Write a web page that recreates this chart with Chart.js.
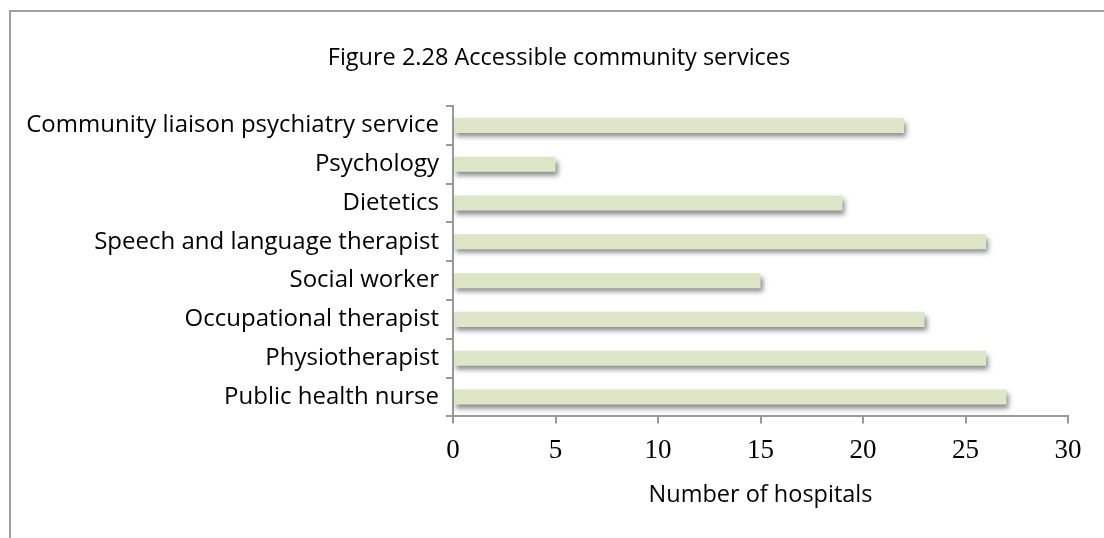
<!DOCTYPE html>
<html>
<head>
<meta charset="utf-8">
<script src="https://cdn.jsdelivr.net/npm/chart.js@4"></script>
<style>
  html, body { margin: 0; padding: 0; background: #fff; }
  #wrap { width: 1104px; height: 538px; position: relative; }
</style>
</head>
<body>
<div id="wrap"><canvas id="my-chart"></canvas></div>
<script>
const services = [
  'Community liaison psychiatry service',
  'Psychology',
  'Dietetics',
  'Speech and language therapist',
  'Social worker',
  'Occupational therapist',
  'Physiotherapist',
  'Public health nurse'
];
const hospitals = [22, 5, 19, 26, 15, 23, 26, 27];
const xTicks = [0, 5, 10, 15, 20, 25, 30];
const chartTitle = 'Figure 2.28 Accessible community services';

// outer frame like the original figure box, plus the figure title
// (title sits off-centre in the original, so it is drawn here)
const framePlugin = {
  id: 'frame',
  beforeDraw(chart) {
    const ctx = chart.ctx;
    ctx.save();
    ctx.strokeStyle = '#a0a0a0';
    ctx.lineWidth = 2;
    ctx.beginPath();
    ctx.moveTo(10, 538);
    ctx.lineTo(10, 11);
    ctx.lineTo(1104, 11);
    ctx.stroke();
    ctx.restore();
  },
  afterDraw(chart) {
    const ctx = chart.ctx;
    ctx.save();
    ctx.fillStyle = '#000';
    ctx.font = '23.5px "Open Sans"';
    ctx.textAlign = 'center';
    ctx.textBaseline = 'middle';
    ctx.fillText(chartTitle, 559, 58);
    ctx.restore();
  }
};

// soft drop shadow under the bars
const shadowPlugin = {
  id: 'barShadow',
  beforeDatasetDraw(chart) {
    const ctx = chart.ctx;
    ctx.save();
    ctx.shadowColor = 'rgba(60,60,70,0.6)';
    ctx.shadowBlur = 5;
    ctx.shadowOffsetX = 2;
    ctx.shadowOffsetY = 4;
  },
  afterDatasetDraw(chart) {
    chart.ctx.restore();
  }
};

const ctx = document.getElementById('my-chart').getContext('2d');
const chart = new Chart(ctx, {
  type: 'bar',
  data: {
    labels: services,
    datasets: [
      {
        label: 'Number of hospitals',
        data: hospitals,
        backgroundColor: '#dfe6c8',
        borderWidth: 0,
        barPercentage: 0.39,
        categoryPercentage: 1
      }
    ]
  },
  options: {
    indexAxis: 'y',
    responsive: true,
    maintainAspectRatio: false,
    animation: false,
    layout: { padding: { left: 0, right: 36, top: 106, bottom: 29 } },
    plugins: {
      legend: { display: false },
      tooltip: { enabled: false },
      title: { display: false }
    },
    scales: {
      x: {
        min: 0,
        max: 30,
        afterBuildTicks: scale => { scale.ticks = xTicks.map(v => ({ value: v })); },
        grid: { drawOnChartArea: false, tickLength: 7, color: '#999', lineWidth: 2 },
        border: { color: '#999', width: 2 },
        ticks: {
          color: '#000',
          padding: 11,
          font: { family: 'Liberation Serif', size: 27 }
        },
        title: {
          display: true,
          text: 'Number of hospitals',
          color: '#000',
          font: { family: 'Open Sans', size: 23.5 },
          padding: { top: 3, bottom: 0 }
        }
      },
      y: {
        afterFit: scale => { scale.width = 453; },
        grid: { drawOnChartArea: false, tickLength: 7, color: '#999', lineWidth: 2, offset: true },
        border: { color: '#999', width: 2 },
        ticks: {
          color: '#000',
          padding: 7,
          font: { family: 'Open Sans', size: 24 }
        }
      }
    }
  },
  plugins: [framePlugin, shadowPlugin]
});
</script>
</body>
</html>
